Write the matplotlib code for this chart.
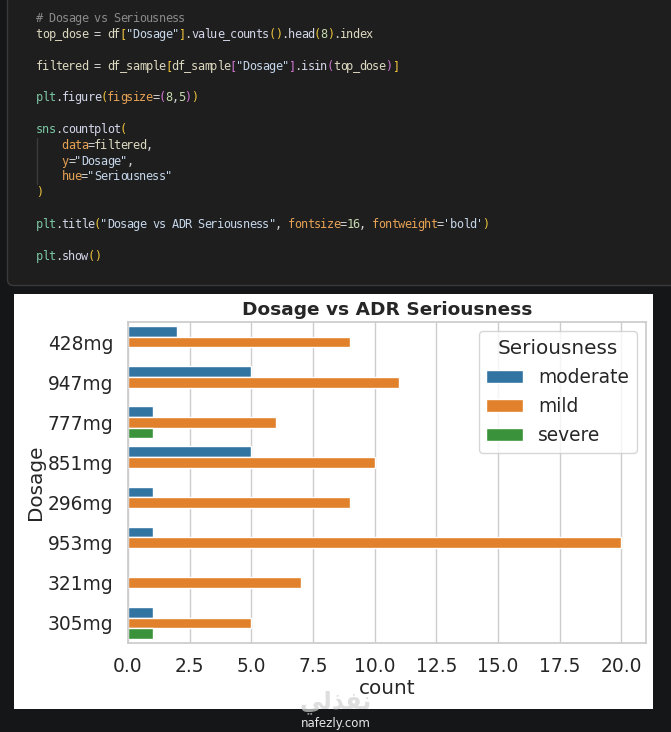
import numpy as np
import pandas as pd
import matplotlib
matplotlib.use("Agg")
import matplotlib.pyplot as plt
import seaborn as sns
from matplotlib.patches import Rectangle, FancyBboxPatch
from matplotlib.transforms import IdentityTransform

# chart data
dosage = ["428mg", "947mg", "777mg", "851mg", "296mg", "953mg", "321mg", "305mg"]
levels = ["moderate", "mild", "severe"]
moderate = [2, 5, 1, 5, 1, 1, 0, 1]
mild = [9, 11, 6, 10, 9, 20, 7, 5]
severe = [0, 0, 1, 0, 0, 0, 0, 1]
colors = ["#1f77b4", "#ff7f0e", "#2ca02c"]

rows = []
for lev, vals in zip(levels, [moderate, mild, severe]):
    for d, v in zip(dosage, vals):
        if v > 0:
            rows.append({"Dosage": d, "Seriousness": lev, "count": v})
df = pd.DataFrame(rows)

W, H = 671, 732
sns.set_theme(style="whitegrid")
plt.rcParams["font.family"] = ["DejaVu Sans"]

fig = plt.figure(figsize=(W / 100, H / 100), dpi=100)
fig.patch.set_facecolor("#141618")

def px(x, y):
    return x, H - y

# code cell box
cell = FancyBboxPatch(px(7.5, 285.5), 700, 300, boxstyle="round,pad=0,rounding_size=6",
                      transform=IdentityTransform(), facecolor="#1e1e1e",
                      edgecolor="#3a3a3a", linewidth=1, zorder=-2)
fig.add_artist(cell)

# code text
C = {"com": "#8a8a8a", "var": "#dcd8c0", "op": "#d4d4d4", "st": "#c5d6ea",
     "fn": "#d2d6e8", "mod": "#7cc8a4", "kw": "#e6a254", "num": "#c8dcb0",
     "b1": "#f0c43c", "b2": "#d276d2"}
code = [
    (18, [("# Dosage vs Seriousness", "com")]),
    (34, [("top_dose", "var"), (" = ", "op"), ("df", "var"), ("[", "b1"), ('"Dosage"', "st"),
          ("]", "b1"), (".", "op"), ("value_counts", "fn"), ("()", "b1"), (".", "op"),
          ("head", "fn"), ("(", "b1"), ("8", "num"), (")", "b1"), (".", "op"), ("index", "var")]),
    (66, [("filtered", "var"), (" = ", "op"), ("df_sample", "var"), ("[", "b1"),
          ("df_sample", "var"), ("[", "b2"), ('"Dosage"', "st"), ("]", "b2"), (".", "op"),
          ("isin", "fn"), ("(", "b2"), ("top_dose", "var"), (")", "b2"), ("]", "b1")]),
    (97, [("plt", "mod"), (".", "op"), ("figure", "fn"), ("(", "b1"), ("figsize", "kw"),
          ("=", "op"), ("(", "b2"), ("8", "num"), (",", "op"), ("5", "num"), (")", "b2"), (")", "b1")]),
    (129, [("sns", "mod"), (".", "op"), ("countplot", "fn"), ("(", "b1")]),
    (145, [("    ", "op"), ("data", "kw"), ("=", "op"), ("filtered", "var"), (",", "op")]),
    (161, [("    ", "op"), ("y", "kw"), ("=", "op"), ('"Dosage"', "st"), (",", "op")]),
    (176, [("    ", "op"), ("hue", "kw"), ("=", "op"), ('"Seriousness"', "st")]),
    (192, [(")", "b1")]),
    (224, [("plt", "mod"), (".", "op"), ("title", "fn"), ("(", "b1"),
           ('"Dosage vs ADR Seriousness"', "st"), (", ", "op"), ("fontsize", "kw"), ("=", "op"),
           ("16", "num"), (", ", "op"), ("fontweight", "kw"), ("=", "op"), ("'bold'", "st"), (")", "b1")]),
    (256, [("plt", "mod"), (".", "op"), ("show", "fn"), ("()", "b1")]),
]
x0, cw = 36.0, 6.47
for y, toks in code:
    col = 0
    for s, k in toks:
        for ch in s:
            if ch != " ":
                fig.text((x0 + (col + 0.5) * cw) / W, 1 - (y + 3.8) / H, ch, color=C[k],
                         fontsize=8.6, family="DejaVu Sans Mono", va="baseline", ha="center")
            col += 1
fig.add_artist(plt.Line2D([37 / W, 37 / W], [1 - 138 / H, 1 - 184 / H], color="#3c3c3c", lw=1))

# white chart area
fig.add_artist(Rectangle((14 / W, 1 - 709 / H), (653 - 14) / W, (709 - 294) / H,
                         transform=fig.transFigure, facecolor="white", edgecolor="none",
                         zorder=-1))

ax = fig.add_axes([128 / W, 1 - 643 / H, (646 - 128) / W, (643 - 322) / H])
sns.barplot(data=df, x="count", y="Dosage", hue="Seriousness", order=dosage,
            hue_order=levels, palette=colors, errorbar=None, ax=ax)
ax.set_title("Dosage vs ADR Seriousness", fontsize=13.3, fontweight="bold", pad=5)
ax.set_xlabel("count", fontsize=14.4, labelpad=2)
ax.set_ylabel("Dosage", fontsize=14.4, labelpad=2)
ax.tick_params(axis="both", labelsize=13.4, length=0)
ax.tick_params(axis="x", pad=10)
ax.tick_params(axis="y", pad=10.5)
for sp in ax.spines.values():
    sp.set_color("#cccccc")
    sp.set_linewidth(1.25)
sns.move_legend(ax, "upper right", title="Seriousness", fontsize=13.4, title_fontsize=14.4,
                labelspacing=0.55)

# watermark
fig.text(336 / W, 1 - 702 / H, "\ufef2\ufedf\ufeac\ufed4\ufee7", color="#d0d0d0", alpha=0.7,
         fontsize=17, fontweight="bold", ha="center", va="center")
fig.text(336 / W, 1 - 724 / H, "nafezly.com", color="#e8e8e8", fontsize=8.5,
         ha="center", va="center")

fig.savefig("out.png", dpi=100, facecolor=fig.get_facecolor())
